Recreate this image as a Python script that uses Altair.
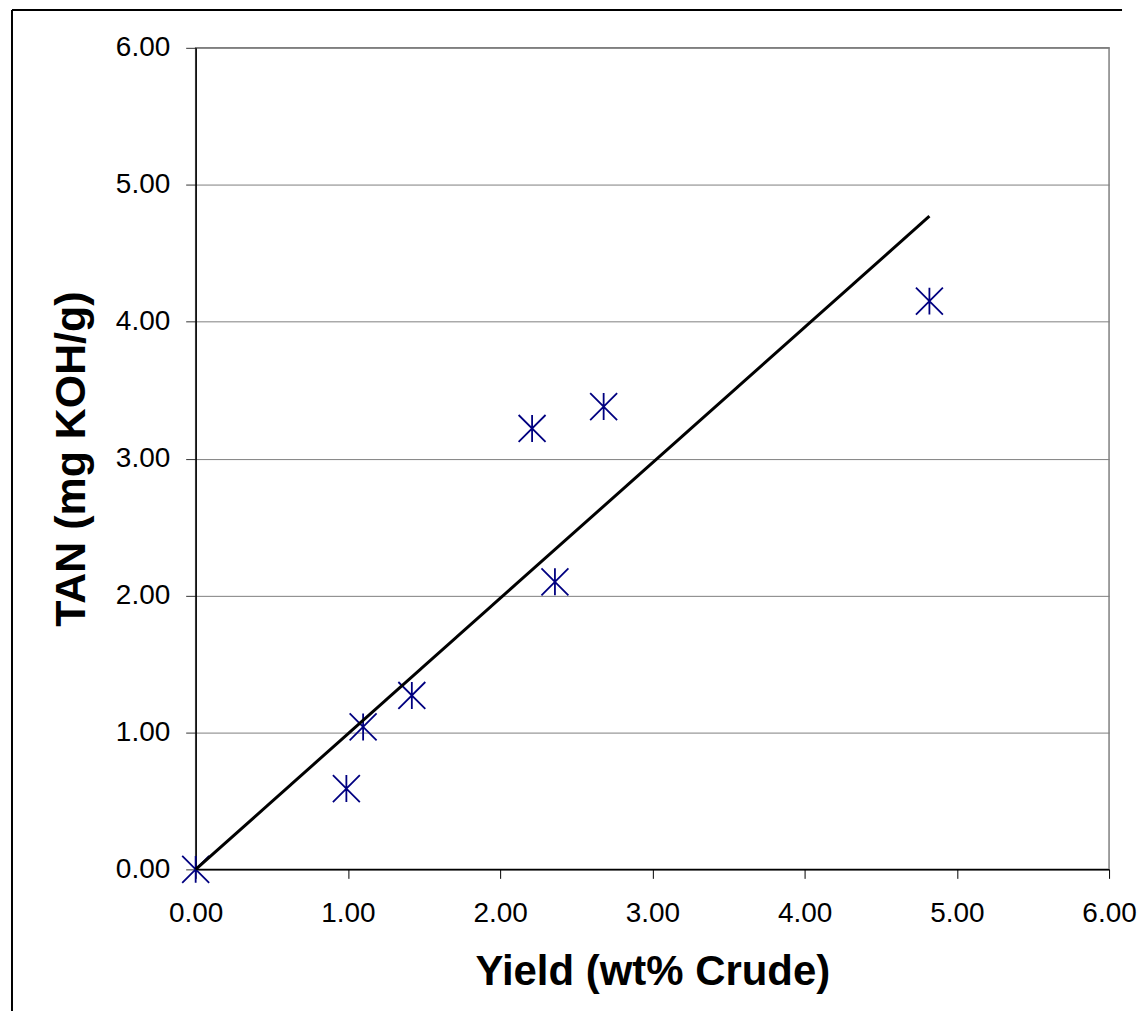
import altair as alt
import pandas as pd

# Data
yield_wt = [0.00, 0.99, 1.10, 1.42, 2.21, 2.36, 2.68, 4.82]
tan_vals = [0.00, 0.59, 1.04, 1.27, 3.22, 2.10, 3.38, 4.15]
trend_x = [0.00, 4.82]
trend_y = [0.00, 4.77]
tick_values = [0, 1, 2, 3, 4, 5, 6]

points_df = pd.DataFrame({"x": yield_wt, "y": tan_vals})
trend_df = pd.DataFrame({"x": trend_x, "y": trend_y})
one_row = pd.DataFrame({"a": [0]})

FONT = "Liberation Sans"
x_scale = alt.Scale(domain=[0, 6], nice=False)
y_scale = alt.Scale(domain=[0, 6], nice=False)

x_axis = alt.Axis(
    values=tick_values, format=".2f", grid=False, tickSize=9, tickColor="#000000",
    domainColor="#000000", domainWidth=1.5, labelPadding=21, labelFontSize=28,
    labelFlush=False, labelOverlap=False,
    labelFont=FONT, labelColor="#000000", title="Yield (wt% Crude)",
    titleFont=FONT, titleFontSize=42, titleFontWeight="bold", titleColor="#000000",
    titlePadding=24,
)
y_axis = alt.Axis(
    values=tick_values, format=".2f", grid=True, gridColor="#808080", gridWidth=1,
    tickSize=10, tickColor="#333333", domainColor="#000000", domainWidth=1.5,
    labelFlush=False, labelOverlap=False,
    labelPadding=16, labelFontSize=28, labelFont=FONT, labelColor="#000000",
    title="TAN (mg KOH/g)", titleFont=FONT, titleFontSize=43, titleFontWeight="bold",
    titleColor="#000000", titlePadding=22,
)

asterisk = "M0,-1L0,1M-1,-1L1,1M-1,1L1,-1"

points = alt.Chart(points_df).mark_point(
    shape=asterisk, size=729, filled=False, stroke="#000080", strokeWidth=1.8,
    opacity=1, clip=False,
).encode(
    x=alt.X("x:Q", scale=x_scale, axis=x_axis),
    y=alt.Y("y:Q", scale=y_scale, axis=y_axis),
)

trend = alt.Chart(trend_df).mark_line(color="#000000", strokeWidth=3).encode(
    x=alt.X("x:Q", scale=x_scale),
    y=alt.Y("y:Q", scale=y_scale),
)

frame_left = alt.Chart(one_row).mark_rule(color="#000000", strokeWidth=2).encode(
    x=alt.value(-184), y=alt.value(-38), y2=alt.value(965)
)
frame_top = alt.Chart(one_row).mark_rule(color="#000000", strokeWidth=2).encode(
    x=alt.value(-184), x2=alt.value(928), y=alt.value(-38)
)

chart = alt.layer(points, trend, frame_left, frame_top).properties(
    width=915, height=823,
    padding={"left": 3, "top": 0, "right": 0, "bottom": 0},
    background="#ffffff",
).configure_view(stroke="#808080", strokeWidth=1.5)

chart.save("out.html", embed_options={"renderer": "svg", "actions": False})
